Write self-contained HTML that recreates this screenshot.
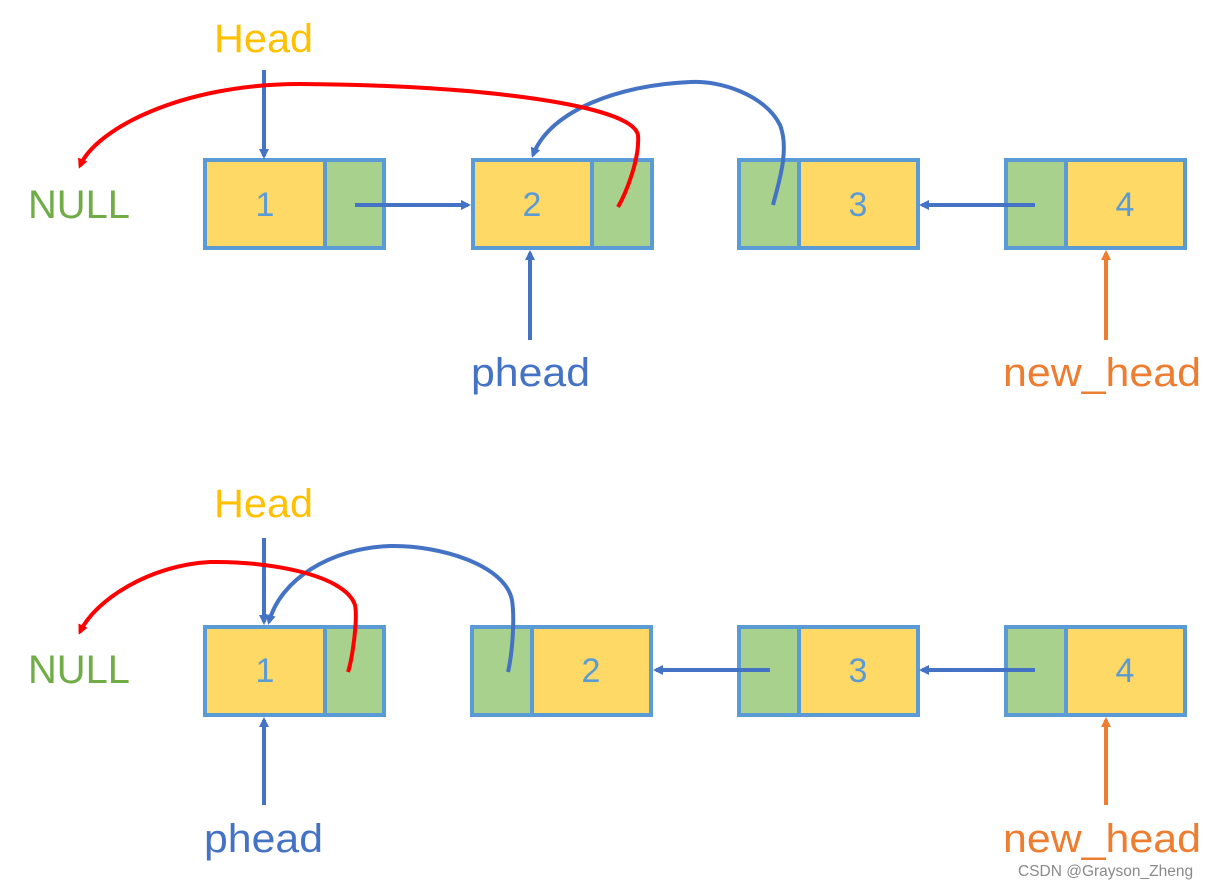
<!DOCTYPE html>
<html><head><meta charset="utf-8"><style>
html,body{margin:0;padding:0;background:#fff;}
svg{display:block;}
text{font-family:"Liberation Sans",sans-serif;}
</style></head><body>
<svg width="1230" height="889" viewBox="0 0 1230 889" xmlns="http://www.w3.org/2000/svg">
<defs>
<marker id="ab" markerWidth="10" markerHeight="10" refX="7" refY="5" orient="auto" markerUnits="userSpaceOnUse" viewBox="0 0 10 10"><path d="M0,0 L10,5 L0,10 z" fill="#4472c4"/></marker>
<marker id="ao" markerWidth="10" markerHeight="10" refX="7" refY="5" orient="auto" markerUnits="userSpaceOnUse" viewBox="0 0 10 10"><path d="M0,0 L10,5 L0,10 z" fill="#ed7d31"/></marker>
<marker id="ar" markerWidth="10" markerHeight="10" refX="7" refY="5" orient="auto" markerUnits="userSpaceOnUse" viewBox="0 0 10 10"><path d="M0,0 L10,5 L0,10 z" fill="#ff0000"/></marker>
</defs>
<g stroke="#5b9bd5" stroke-width="4">
<!-- top row -->
<rect x="205" y="160" width="120" height="88" fill="#ffd966"/><rect x="325" y="160" width="59" height="88" fill="#a9d18e"/>
<rect x="473" y="160" width="119" height="88" fill="#ffd966"/><rect x="592" y="160" width="60" height="88" fill="#a9d18e"/>
<rect x="739" y="160" width="60" height="88" fill="#a9d18e"/><rect x="799" y="160" width="119" height="88" fill="#ffd966"/>
<rect x="1006" y="160" width="60" height="88" fill="#a9d18e"/><rect x="1066" y="160" width="119" height="88" fill="#ffd966"/>
<!-- bottom row -->
<rect x="205" y="627" width="120" height="88" fill="#ffd966"/><rect x="325" y="627" width="59" height="88" fill="#a9d18e"/>
<rect x="472" y="627" width="60" height="88" fill="#a9d18e"/><rect x="532" y="627" width="119" height="88" fill="#ffd966"/>
<rect x="739" y="627" width="60" height="88" fill="#a9d18e"/><rect x="799" y="627" width="119" height="88" fill="#ffd966"/>
<rect x="1006" y="627" width="60" height="88" fill="#a9d18e"/><rect x="1066" y="627" width="119" height="88" fill="#ffd966"/>
</g>
<g fill="#5b9bd5" font-size="34" text-anchor="middle">
<text x="265" y="216">1</text><text x="532" y="216">2</text><text x="858" y="216">3</text><text x="1125" y="216">4</text>
<text x="265" y="682">1</text><text x="591" y="682">2</text><text x="858" y="682">3</text><text x="1125" y="682">4</text>
</g>
<g font-size="40">
<text x="214" y="52" fill="#ffc000" textLength="99" lengthAdjust="spacingAndGlyphs">Head</text>
<text x="28" y="218" fill="#70ad47" textLength="102" lengthAdjust="spacingAndGlyphs">NULL</text>
<text x="471" y="386" fill="#4472c4" textLength="119" lengthAdjust="spacingAndGlyphs">phead</text>
<text x="1003" y="386" fill="#ed7d31" textLength="198" lengthAdjust="spacingAndGlyphs">new_head</text>
<text x="214" y="517" fill="#ffc000" textLength="99" lengthAdjust="spacingAndGlyphs">Head</text>
<text x="28" y="683" fill="#70ad47" textLength="102" lengthAdjust="spacingAndGlyphs">NULL</text>
<text x="204" y="852" fill="#4472c4" textLength="119" lengthAdjust="spacingAndGlyphs">phead</text>
<text x="1003" y="852" fill="#ed7d31" textLength="198" lengthAdjust="spacingAndGlyphs">new_head</text>
</g>
<g stroke="#4472c4" stroke-width="4" fill="none">
<line x1="264" y1="70" x2="264" y2="156" marker-end="url(#ab)"/>
<line x1="355" y1="205" x2="468" y2="205" marker-end="url(#ab)"/>
<line x1="1035" y1="205" x2="922" y2="205" marker-end="url(#ab)"/>
<line x1="530" y1="340" x2="530" y2="253" marker-end="url(#ab)"/>
<path d="M773,205 C778,185 790,150 780,125 C765,95 720,80 690,82 C620,85 550,110 533,155" marker-end="url(#ab)"/>
<line x1="264" y1="538" x2="264" y2="622" marker-end="url(#ab)"/>
<line x1="770" y1="670" x2="656" y2="670" marker-end="url(#ab)"/>
<line x1="1035" y1="670" x2="922" y2="670" marker-end="url(#ab)"/>
<line x1="264" y1="805" x2="264" y2="720" marker-end="url(#ab)"/>
<path d="M508,672 C512,655 515,620 512,600 C505,565 440,545 390,546 C330,548 280,580 269,622" marker-end="url(#ab)"/>
</g>
<g stroke="#ed7d31" stroke-width="4">
<line x1="1106" y1="340" x2="1106" y2="253" marker-end="url(#ao)"/>
<line x1="1106" y1="805" x2="1106" y2="720" marker-end="url(#ao)"/>
</g>
<g stroke="#ff0000" stroke-width="4" fill="none">
<path d="M618,207 C625,195 640,160 638,135 C632,105 480,85 300,84 C180,84 95,130 80,166" marker-end="url(#ar)"/>
<path d="M348,672 C352,660 358,620 355,605 C345,575 270,561 210,562 C150,565 95,600 80,632" marker-end="url(#ar)"/>
</g>
<text x="1018" y="876" fill="#8a8a8a" font-size="15.5">CSDN @Grayson_Zheng</text>
</svg>
</body></html>
